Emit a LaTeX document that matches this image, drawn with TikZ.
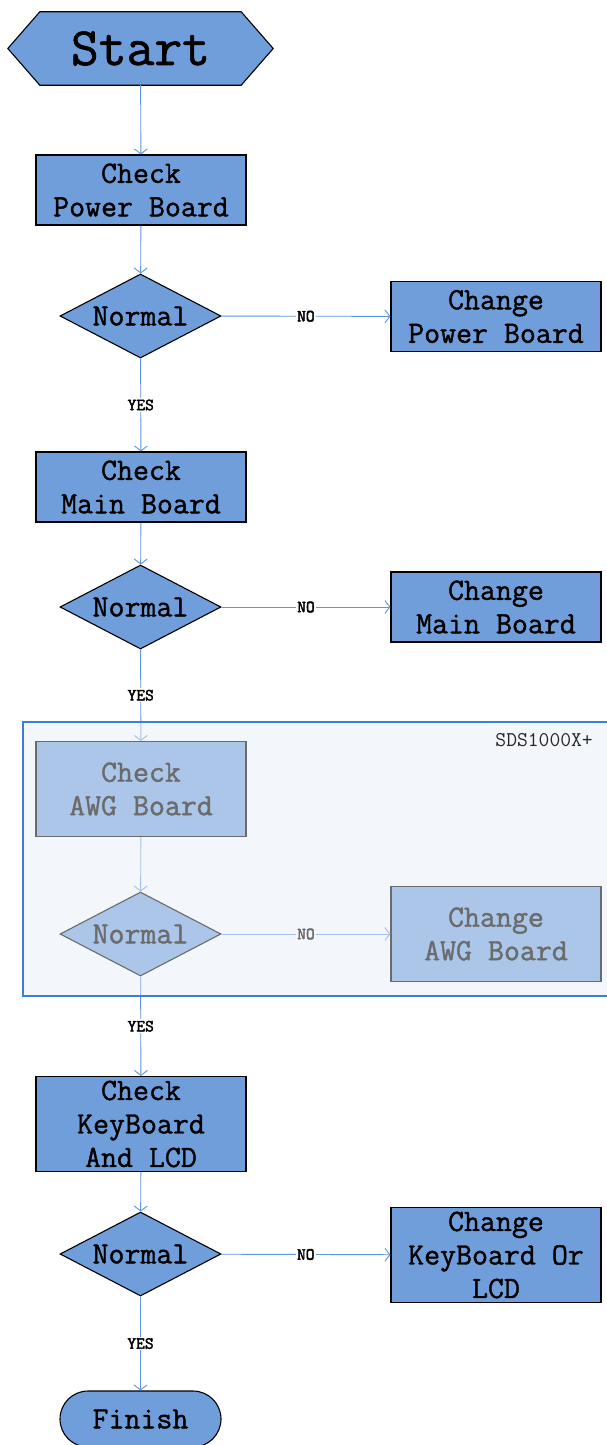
\documentclass[tikz,border=0pt]{standalone}
\usepackage{fontspec}
\usetikzlibrary{shapes.geometric,shapes.misc,arrows.meta,backgrounds}
\newfontfamily\boxfont[FakeBold=1.2]{Latin Modern Mono}
\newfontfamily\lblfont[FakeBold=2.5]{Latin Modern Mono}
\newfontfamily\tagfont{Latin Modern Mono}
\definecolor{mainfill}{RGB}{112,158,219}
\definecolor{linecol}{RGB}{95,148,222}
\definecolor{groupbg}{RGB}{236,240,248}
\definecolor{groupborder}{RGB}{60,125,215}
\definecolor{tagcol}{RGB}{40,40,40}
\begin{document}
\begin{tikzpicture}[x=1pt,y=-1pt,
  box/.style={rectangle, draw=black, line width=1.1pt, fill=mainfill, minimum width=210pt,
    minimum height=70pt, inner sep=0pt, align=center, text=black,
    font={\boxfont\fontsize{31}{33.5}\selectfont}},
  tallbox/.style={box, minimum height=95pt},
  dia/.style={diamond, aspect=1.92, draw=black, line width=1.1pt, fill=mainfill,
    minimum width=161pt, minimum height=84pt, inner sep=0pt, text=black,
    font={\boxfont\fontsize{31}{33.5}\selectfont}},
  term/.style={rounded rectangle, draw=black, line width=1.1pt, fill=mainfill,
    minimum width=161pt, minimum height=56pt, inner sep=0pt, text=black,
    font={\boxfont\fontsize{31}{33.5}\selectfont}},
  conn/.style={draw=linecol, line width=0.9pt, -{Straight Barb[length=5pt,width=13pt]}},
  lbl/.style={fill=white, inner sep=1.5pt, text=black,
    font={\lblfont\fontsize{17}{17}\selectfont}}
]
\useasboundingbox (0,0) rectangle (607,1445);
\begin{scope}[on background layer]
\fill[white] (0,0) rectangle (607,1445);
\fill[groupbg] (23,722) rectangle (640,996);
\end{scope}

% Start
\node[minimum width=201pt, minimum height=73pt, inner sep=0pt,
  font={\boxfont\fontsize{54}{54}\selectfont}] (start) at (140.5,48.5) {Start};
\begin{scope}[on background layer]
\filldraw[fill=mainfill, draw=black, line width=1.1pt]
  ([xshift=-32pt]start.west) -- (start.north west) -- (start.north east)
  -- ([xshift=32pt]start.east) -- (start.south east) -- (start.south west) -- cycle;
\end{scope}

\node[box] (cpb) at (141,190) {Check\\Power Board};
\node[dia] (d1) at (140.5,316) {Normal};
\node[box] (chpb) at (496,316.5) {Change\\Power Board};

\node[box] (cmb) at (141,487) {Check\\Main Board};
\node[dia] (d2) at (140.5,607) {Normal};
\node[box] (chmb) at (496,607) {Change\\Main Board};

\node[tallbox] (cawg) at (141,789) {Check\\AWG Board};
\node[dia] (d3) at (140.5,934) {Normal};
\node[tallbox] (chawg) at (496,934) {Change\\AWG Board};

\node[tallbox] (ckb) at (141,1124) {Check\\KeyBoard\\And LCD};
\node[dia] (d4) at (140.5,1254) {Normal};
\node[tallbox] (chkb) at (496,1255) {Change\\KeyBoard Or\\LCD};

\node[term] (fin) at (140.5,1419) {Finish};

% connectors
\draw[conn] (start) -- (cpb);
\draw[conn] (cpb) -- (d1);
\draw[conn] (d1) -- node[lbl]{NO} (chpb);
\draw[conn] (d1) -- node[lbl]{YES} (cmb);
\draw[conn] (cmb) -- (d2);
\draw[conn] (d2) -- node[lbl]{NO} (chmb);
\draw[conn] (d2) -- node[lbl]{YES} (cawg);
\draw[conn] (cawg) -- (d3);
\draw[conn] (d3) -- node[lbl, fill=groupbg]{NO} (chawg);
\draw[conn] (d3) -- node[lbl]{YES} (ckb);
\draw[conn] (ckb) -- (d4);
\draw[conn] (d4) -- node[lbl]{NO} (chkb);
\draw[conn] (d4) -- node[lbl]{YES} (fin);

% translucent group overlay
\fill[white, fill opacity=0.42] (23,722) rectangle (640,996);
\draw[groupborder, line width=1.2pt] (640,722) -- (23,722) -- (23,996) -- (640,996);
\node[anchor=north east, inner sep=0pt, text=tagcol,
  font={\tagfont\fontsize{21}{21}\selectfont}] (tag) at (593,733) {SDS1000X+};
\end{tikzpicture}
\end{document}
